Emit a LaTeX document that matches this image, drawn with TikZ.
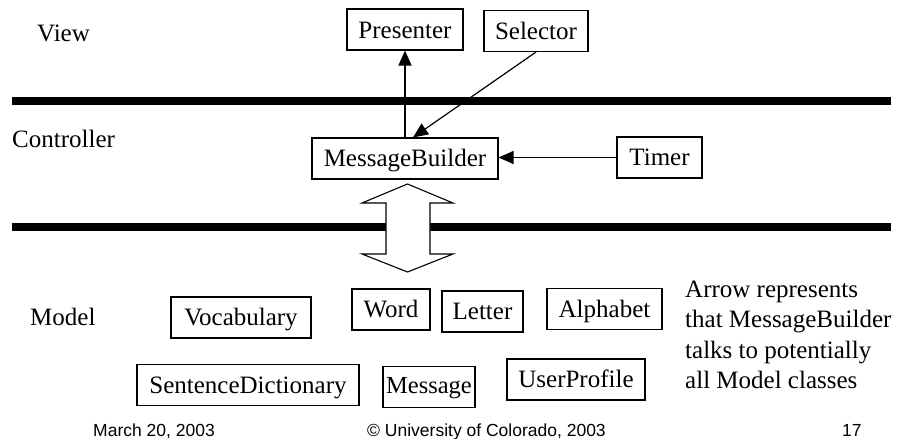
\documentclass[tikz,border=0pt]{standalone}
\usepackage{fontspec}
\setmainfont{Liberation Serif}
\newfontfamily\footfont{Liberation Sans}
\usetikzlibrary{arrows.meta,calc}
\begin{document}
\begin{tikzpicture}[x=1pt,y=1pt,
  cls/.style={draw,line width=1.1pt,minimum height=41pt,inner xsep=0pt,inner ysep=0pt,
    text height=20pt,text depth=3pt,font=\fontsize{25pt}{30pt}\selectfont,anchor=center},
  lbl/.style={anchor=base west,inner sep=0pt,font=\fontsize{25pt}{30pt}\selectfont},
  foot/.style={anchor=base west,inner sep=0pt,font=\footfont\fontsize{17.5pt}{21pt}\selectfont},
  bar/.style={line width=8pt},
  conn/.style={line width=1.2pt,-{Triangle[length=15pt,width=13pt]}}]
\useasboundingbox (0,0) rectangle (898,439);
% layer bars
\coordinate (b1l) at (12,337.5); \coordinate (b1r) at (891,337.5);
\coordinate (b2l) at (12,212); \coordinate (b2r) at (891,212);
\draw[bar] (b1l) -- (b1r);
\draw[bar] (b2l) -- (b2r);
% layer labels
\node[lbl] (view) at (37,397) {View};
\node[lbl] (ctrl) at (12,291) {Controller};
\node[lbl] (model) at (30,113) {Model};
% view classes
\node[cls,minimum width=116pt,text height=21pt] (pres) at (405,409.5) {Presenter};
\node[cls,minimum width=104pt] (sel) at (536,408) {Selector};
% controller classes
\node[cls,minimum width=186pt] (mb) at (405,280.5) {MessageBuilder};
\node[cls,minimum width=85pt] (timer) at (659.5,281.5) {Timer};
% model classes
\node[cls,minimum width=140pt] (voc) at (241,121.5) {Vocabulary};
\node[cls,minimum width=78pt] (word) at (391,129.5) {Word};
\node[cls,minimum width=81pt] (let) at (482.5,127.5) {Letter};
\node[cls,minimum width=115pt] (alph) at (604.5,130) {Alphabet};
\node[cls,minimum width=222pt] (sd) at (248,54) {SentenceDictionary};
\node[cls,minimum width=92pt,text height=16pt,font=\fontsize{24.5pt}{29pt}\selectfont] (msg) at (429,52) {Message};
\node[cls,minimum width=138pt] (up) at (576,59.5) {UserProfile};
% connectors
\draw[conn] (mb.north) -- (mb.north |- pres.south);
\draw[conn] (sel.south) -- ($(mb.north)+(8,0)$);
\draw[conn] (timer.west) -- (timer.west -| mb.east);
% double arrow
\coordinate (dc) at (407.5,211);
\draw[line width=1.1pt,fill=white]
  ($(dc)+(0,44)$) -- ($(dc)+(45.5,25)$) -- ($(dc)+(22.5,25)$) -- ($(dc)+(22.5,-26)$)
  -- ($(dc)+(45.5,-26)$) -- ($(dc)+(0,-44)$) -- ($(dc)+(-45.5,-26)$) -- ($(dc)+(-21.5,-26)$)
  -- ($(dc)+(-21.5,25)$) -- ($(dc)+(-45.5,25)$) -- cycle;
% note
\node[lbl] (n1) at (685,141) {Arrow represents};
\node[lbl] (n2) at (685,111) {that MessageBuilder};
\node[lbl] (n3) at (685,80) {talks to potentially};
\node[lbl] (n4) at (685,50) {all Model classes};
% footer
\node[foot] (f1) at (93,2.5) {March 20, 2003};
\node[foot] (f2) at (367,2.5) {© University of Colorado, 2003};
\node[foot] (f3) at (842,2.5) {17};
\end{tikzpicture}
\end{document}
